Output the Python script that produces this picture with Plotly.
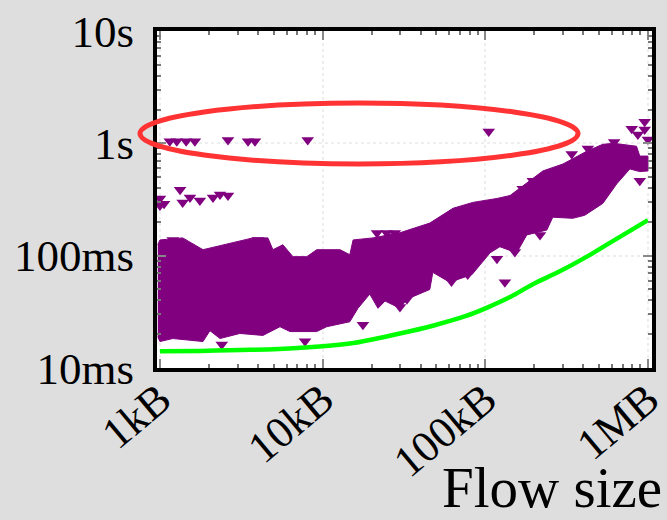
import plotly.graph_objects as go

# Flow size in kB, completion time in ms
band_upper_kb = [0.97, 1, 1.38, 1.84, 3.73, 4.61, 4.95, 5.70, 6.57, 8.0, 9.2, 12.8, 14.7, 15.4, 20.4, 29.9, 45.6, 63.3, 83.9, 118, 142, 188, 226, 300, 421, 528, 617, 851, 891, 1000]
band_upper_ms = [125, 138, 144, 113, 144, 144, 113, 125, 98, 98, 113, 113, 102, 138, 144, 160, 195, 264, 298, 323, 343, 464, 568, 654, 851, 980, 1000, 942, 770, 770]
band_lower_kb = [1000, 891, 774, 644, 528, 409, 345, 260, 239, 180, 156, 123, 107, 83, 60.5, 47.6, 45.6, 33, 29.9, 24.2, 21.9, 19.5, 16.5, 14.7, 10.6, 9.2, 6.3, 5.47, 4.3, 3.1, 2.34, 2.03, 1.84, 1.2, 1, 0.97]
band_lower_ms = [568, 560, 592, 437, 292, 229, 215, 220, 169, 153, 106, 120, 106, 68, 58, 71, 50, 41, 34, 39.5, 34, 45.5, 34, 25.8, 23.3, 21.1, 21.1, 23.3, 19.5, 20.3, 18.3, 21.5, 17.2, 18.3, 17.2, 19]
outlier_kb = [1.15, 1.27, 1.45, 1.64, 2.62, 3.48, 3.84, 8.1, 105, 1.0, 1.0, 1.06, 1.33, 1.38, 1.53, 1.76, 2.12, 2.34, 2.62, 132, 217, 2.4, 7.8, 118, 152, 17.7, 340, 427, 620, 891, 955, 867, 1000, 795, 955,
              21.6, 24.8, 27.8, 4.0, 1.2, 196, 170, 62, 78, 33, 29.9]
outlier_ms = [1042, 1042, 1042, 1042, 1072, 1042, 1042, 1072, 1274, 323, 280, 290, 387, 298, 330, 310, 330, 350, 343, 58, 153, 16.2, 17.3, 94, 108, 24.3, 802, 900, 1030, 464, 1327, 1200, 1084, 1349, 1560,
              159, 159, 159, 138, 138, 464, 395, 59, 68, 41, 35]
ideal_kb = [1, 1.77, 3.6, 7.0, 14.7, 29.9, 47.6, 77, 102, 142, 196, 287, 421, 583, 1000]
ideal_ms = [14.1, 14.2, 14.5, 15.1, 16.5, 20.3, 23.8, 29.2, 34.3, 42.8, 55.7, 72.5, 98, 130, 207]
x_ticks = [1, 10, 100, 1000]
x_labels = ["1kB", "10kB", "100kB", "1MB"]
y_ticks = [10, 100, 1000, 10000]
y_labels = ["10ms", "100ms", "1s", "10s"]

W, H = 667, 520
FONT = "Liberation Serif"

fig = go.Figure()
fig.add_trace(go.Scatter(x=band_upper_kb + band_lower_kb, y=band_upper_ms + band_lower_ms,
                         mode="lines", fill="toself", fillcolor="#800080",
                         line=dict(color="#800080", width=1), hoverinfo="skip"))
fig.add_trace(go.Scatter(x=outlier_kb, y=outlier_ms, mode="markers", cliponaxis=False,
                         marker=dict(symbol="triangle-down", size=11, color="#800080", line=dict(width=0))))
fig.add_trace(go.Scatter(x=ideal_kb, y=ideal_ms, mode="lines", line=dict(color="#00ff00", width=4.5, shape="spline")))

common = dict(type="log", automargin=False, showline=True, mirror="ticks", linecolor="black", linewidth=4,
              ticks="inside", ticklen=9, tickwidth=2, tickcolor="#888888", ticklabeloverflow="allow",
              showgrid=True, gridcolor="#eeeeee", griddash="dot", gridwidth=2, zeroline=False,
              minor=dict(ticks="inside", ticklen=4, tickwidth=2, tickcolor="#777777", showgrid=False, dtick="D1"))
fig.update_xaxes(range=[-0.018, 3.025], domain=[157 / W, 652 / W], tickmode="array", tickvals=x_ticks,
                 ticktext=x_labels, tickangle=-40, ticklabelstandoff=-16,
                 tickfont=dict(family=FONT, size=44, color="black"), **common)
fig.update_yaxes(range=[1, 4], domain=[(H - 368) / H, (H - 31) / H], tickmode="array", tickvals=y_ticks,
                 ticktext=y_labels, ticklabelstandoff=10,
                 tickfont=dict(family=FONT, size=45, color="black"), **common)

fig.add_shape(type="circle", xref="paper", yref="paper", x0=140 / W, x1=578 / W,
              y0=(H - 164) / H, y1=(H - 103) / H, line=dict(color="#ff3333", width=5))
fig.add_annotation(text="Flow size", xref="paper", yref="paper", x=663 / W, y=0, xanchor="right",
                   yanchor="bottom", showarrow=False, font=dict(family=FONT, size=57, color="black"),
                   borderpad=0)

fig.update_layout(width=W, height=H, autosize=False, margin=dict(l=0, r=0, t=0, b=0),
                  paper_bgcolor="#dedede", plot_bgcolor="white", showlegend=False)
fig.write_html("out.html", config=dict(displayModeBar=False),
               post_script="document.body.style.margin='0';document.documentElement.style.overflow='hidden';")
